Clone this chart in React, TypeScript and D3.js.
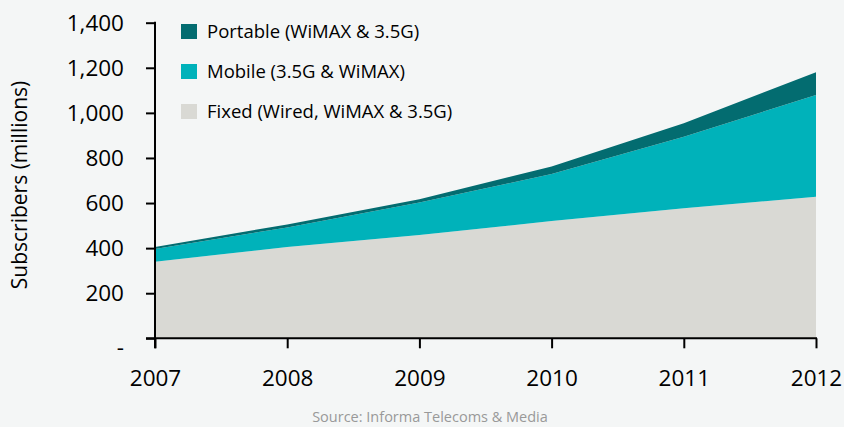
import React, { useEffect, useRef } from "react";
import * as d3 from "d3";

const years = [2007, 2008, 2009, 2010, 2011, 2012];
const fixed = [340, 405, 458, 520, 577, 628];
const mobile = [56, 87, 144, 209, 317, 451];
const portable = [9, 13, 15, 33, 60, 101];
const yTicks = [0, 200, 400, 600, 800, 1000, 1200, 1400];

const seriesKeys = ["fixed", "mobile", "portable"];
const seriesColors: Record<string, string> = {
  fixed: "#d9d9d4",
  mobile: "#00b2ba",
  portable: "#036c70",
};
const legendItems = [
  { key: "portable", label: "Portable (WiMAX & 3.5G)" },
  { key: "mobile", label: "Mobile (3.5G & WiMAX)" },
  { key: "fixed", label: "Fixed (Wired, WiMAX & 3.5G)" },
];

const W = 844;
const H = 427;
const FONT = "'Open Sans', sans-serif";

export default function App() {
  const svgRef = useRef<SVGSVGElement | null>(null);

  useEffect(() => {
    document.body.style.margin = "0";
    if (!svgRef.current) return;
    const svg = d3.select(svgRef.current);
    svg.selectAll("*").remove();

    const margin = { top: 22.7, left: 155, right: 28, bottom: 88.7 };

    svg.append("rect").attr("width", W).attr("height", H).attr("fill", "#f4f6f6");

    const x = d3.scaleLinear()
      .domain([2007, 2012])
      .range([margin.left, W - margin.right]);
    const y = d3.scaleLinear()
      .domain([0, 1400])
      .range([H - margin.bottom, margin.top]);

    const rows = years.map((yr, i) => ({
      year: yr,
      fixed: fixed[i],
      mobile: mobile[i],
      portable: portable[i],
    }));
    const stacked = d3.stack<any>().keys(seriesKeys)(rows);

    const area = d3.area<any>()
      .x(d => x(d.data.year))
      .y0(d => y(d[0]))
      .y1(d => y(d[1]));

    svg.append("g")
      .selectAll("path")
      .data(stacked)
      .join("path")
      .attr("d", d => area(d) as string)
      .attr("fill", d => seriesColors[d.key]);

    // y axis
    const yAxis = svg.append("g")
      .attr("transform", `translate(${margin.left},0)`)
      .call(d3.axisLeft(y).tickValues(yTicks).tickSize(9).tickPadding(22)
        .tickFormat(d => (+d === 0 ? "-" : d3.format(",")(+d))));
    yAxis.select(".domain").remove();
    yAxis.selectAll("line").attr("stroke", "#000").attr("stroke-width", 2);
    yAxis.selectAll("text")
      .attr("font-family", FONT)
      .attr("font-size", 22.5)
      .attr("fill", "#000")
      .attr("dy", (d: any) => (+d === 0 ? "0.7em" : "0.34em"));

    // x axis
    const xAxis = svg.append("g")
      .attr("transform", `translate(0,${y(0)})`)
      .call(d3.axisBottom(x).tickValues(years).tickSize(10).tickPadding(22)
        .tickFormat(d3.format("d")));
    xAxis.select(".domain").remove();
    xAxis.selectAll("line").attr("stroke", "#000").attr("stroke-width", 2);
    xAxis.selectAll("text")
      .attr("font-family", FONT)
      .attr("font-size", 22.5)
      .attr("fill", "#000");

    // axis lines
    svg.append("line")
      .attr("x1", margin.left).attr("x2", margin.left)
      .attr("y1", y(1400) - 1).attr("y2", y(0) + 10)
      .attr("stroke", "#000").attr("stroke-width", 2);
    svg.append("line")
      .attr("x1", margin.left - 9).attr("x2", x(2012) + 1)
      .attr("y1", y(0)).attr("y2", y(0))
      .attr("stroke", "#000").attr("stroke-width", 2);

    // y title
    svg.append("text")
      .attr("transform", `translate(27,185) rotate(-90)`)
      .attr("text-anchor", "middle")
      .attr("font-family", FONT)
      .attr("font-size", 21)
      .attr("fill", "#000")
      .text("Subscribers (millions)");

    // legend
    const legend = svg.append("g").attr("transform", "translate(181,24)");
    legendItems.forEach((item, i) => {
      const g = legend.append("g").attr("transform", `translate(0,${i * 40})`);
      g.append("rect")
        .attr("width", 16).attr("height", 15)
        .attr("fill", seriesColors[item.key]);
      g.append("text")
        .attr("x", 26).attr("y", 8)
        .attr("dy", "0.35em")
        .attr("font-family", FONT)
        .attr("font-size", 18.5)
        .attr("fill", "#000")
        .text(item.label);
    });

    // source
    svg.append("text")
      .attr("x", 430).attr("y", 422)
      .attr("text-anchor", "middle")
      .attr("font-family", FONT)
      .attr("font-size", 14.5)
      .attr("fill", "#999")
      .text("Source: Informa Telecoms & Media");
  }, []);

  return (
    <svg ref={svgRef} width={W} height={H} style={{ display: "block" }} />
  );
}
